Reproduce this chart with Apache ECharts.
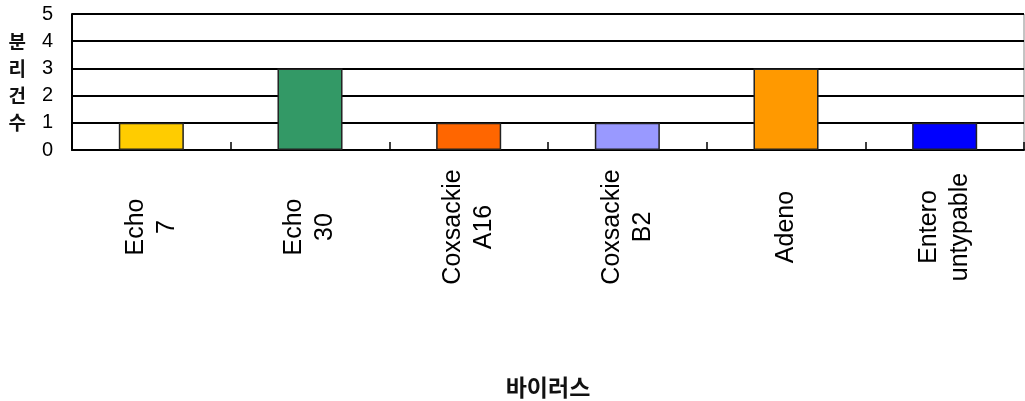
<!DOCTYPE html>
<html><head><meta charset="utf-8">
<script src="https://cdn.jsdelivr.net/npm/echarts@6/dist/echarts.min.js"></script>
<style>html,body{margin:0;padding:0;background:#fff}#c{width:1025px;height:401px}</style>
</head><body><div id="c"></div>
<script>
const categories = ['Echo\n7', 'Echo\n30', 'Coxsackie\nA16', 'Coxsackie\nB2', 'Adeno', 'Entero\nuntypable'];
const values = [1, 3, 1, 1, 3, 1];
const barColors = ['#FFCC00', '#339966', '#FF6600', '#9999FF', '#FF9900', '#0000FF'];
const yTicks = [0, 1, 2, 3, 4, 5];
const yName = '분리건수';
const xName = '바이러스';

const chart = echarts.init(document.getElementById('c'), null, {renderer: 'canvas'});
const FONT = '"Liberation Sans", Arial, Helvetica, sans-serif';
const KFONT = '"Noto Sans CJK KR", sans-serif';
chart.setOption({
  animation: false,
  backgroundColor: '#fff',
  grid: {left: 72, right: 1, top: 14, bottom: 251, show: true, borderColor: '#888', borderWidth: 1,
         containLabel: false, outerBoundsMode: 'none'},
  xAxis: {
    type: 'category',
    data: categories,
    name: xName,
    nameLocation: 'middle',
    nameGap: 226,
    nameTextStyle: {fontFamily: KFONT, fontWeight: 'bold', fontSize: 23, color: '#111'},
    axisLine: {lineStyle: {color: '#000', width: 2}},
    axisTick: {show: true, inside: true, length: 8, interval: 0, lineStyle: {color: '#000', width: 1.5}},
    axisLabel: {
      interval: 0, rotate: 90, align: 'center', verticalAlign: 'middle', margin: 77,
      fontFamily: FONT, fontSize: 25, lineHeight: 31, color: '#000'
    }
  },
  yAxis: {
    type: 'value',
    min: yTicks[0], max: yTicks[yTicks.length - 1], interval: 1,
    name: yName.split('').join('\n'),
    nameLocation: 'middle',
    nameRotate: 0,
    nameGap: 46,
    nameTextStyle: {fontFamily: KFONT, fontWeight: 'bold', fontSize: 19, lineHeight: 27, color: '#111'},
    axisLine: {show: true, lineStyle: {color: '#000', width: 2}},
    axisTick: {show: false},
    axisLabel: {margin: 19, fontFamily: FONT, fontSize: 20, color: '#000'},
    splitLine: {lineStyle: {color: '#000', width: 2}}
  },
  series: [{
    type: 'bar',
    data: values.map((v, i) => ({value: v, itemStyle: {color: barColors[i]}})),
    barWidth: '41%',
    itemStyle: {borderColor: '#222', borderWidth: 1.5}
  }]
});
</script></body></html>
